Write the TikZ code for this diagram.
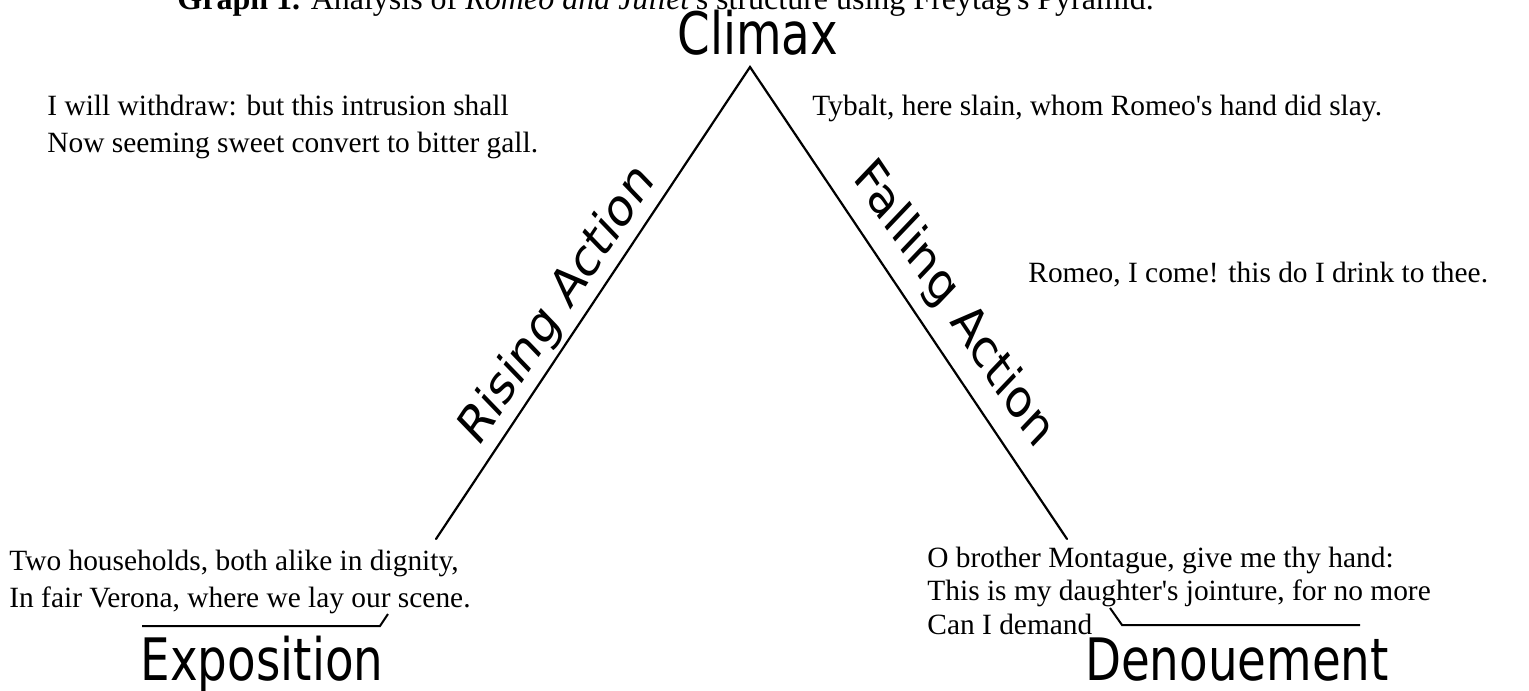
\documentclass[tikz,border=0pt]{standalone}
\usepackage{fontspec}
\setmainfont{Liberation Serif}
\newfontfamily\labfont{DejaVu Sans}
\begin{document}
\begin{tikzpicture}[x=0.5pt, y=-0.5pt,
  lab/.style={font=\labfont\fontsize{29.25pt}{34pt}\selectfont, inner sep=0pt, xscale=0.8},
  slab/.style={font=\labfont\fontsize{26.75pt}{31pt}\selectfont, inner sep=0pt, xscale=0.8},
  quote/.style={font=\fontsize{14.7pt}{18.5pt}\selectfont, inner sep=0pt, align=left},
  quotesm/.style={font=\fontsize{14.7pt}{16.75pt}\selectfont, inner sep=0pt, align=left},
  pyr/.style={line width=1.1pt, line cap=round, line join=miter},
  brk/.style={line width=1pt}]
\useasboundingbox (0,0) rectangle (1529,690);
% title (cut at the top edge)
\node[font=\fontsize{16pt}{18pt}\selectfont, inner sep=0pt, anchor=base west] (title) at (177,10) {\textbf{Graph 1.} Analysis of \textit{Romeo and Juliet}\textquotesingle s structure using Freytag\textquotesingle s Pyramid.};
% pyramid
\coordinate (L) at (436,539);
\coordinate (apex) at (750,67);
\coordinate (R) at (1067,539);
\draw[pyr] (L) -- (apex) -- (R);
% labels
\node[lab, anchor=base] (climax) at (758,55) {Climax};
\node[lab, anchor=base] (expo) at (262,680) {Exposition};
\node[lab, anchor=base] (denou) at (1237,680) {Denouement};
\node[slab, rotate=50.3] (rising) at (558,306) {Rising Action};
\node[slab, rotate=-50] (falling) at (953,305) {Falling Action};
% quotes
\node[quote, anchor=base west] (q1) at (47,152) {I will withdraw: but this intrusion shall\\Now seeming sweet convert to bitter gall.};
\node[quote, anchor=base west] (q2) at (812,115) {Tybalt, here slain, whom Romeo\textquotesingle s hand did slay.};
\node[quote, anchor=base west] (q3) at (1028,282) {Romeo, I come! this do I drink to thee.};
\node[quote, anchor=base west] (q4) at (9,607) {Two households, both alike in dignity,\\In fair Verona, where we lay our scene.};
\node[quotesm, anchor=base west] (q5) at (927,634) {O brother Montague, give me thy hand:\\This is my daughter\textquotesingle s jointure, for no more\\Can I demand};
% brackets
\coordinate (e1) at (388,614);
\coordinate (e2) at (380,626);
\coordinate (e3) at (142,626);
\draw[brk] (e1) -- (e2) -- (e3);
\coordinate (d1) at (1110,608);
\coordinate (d2) at (1122,625);
\coordinate (d3) at (1360,625);
\draw[brk] (d1) -- (d2) -- (d3);
\end{tikzpicture}
\end{document}
